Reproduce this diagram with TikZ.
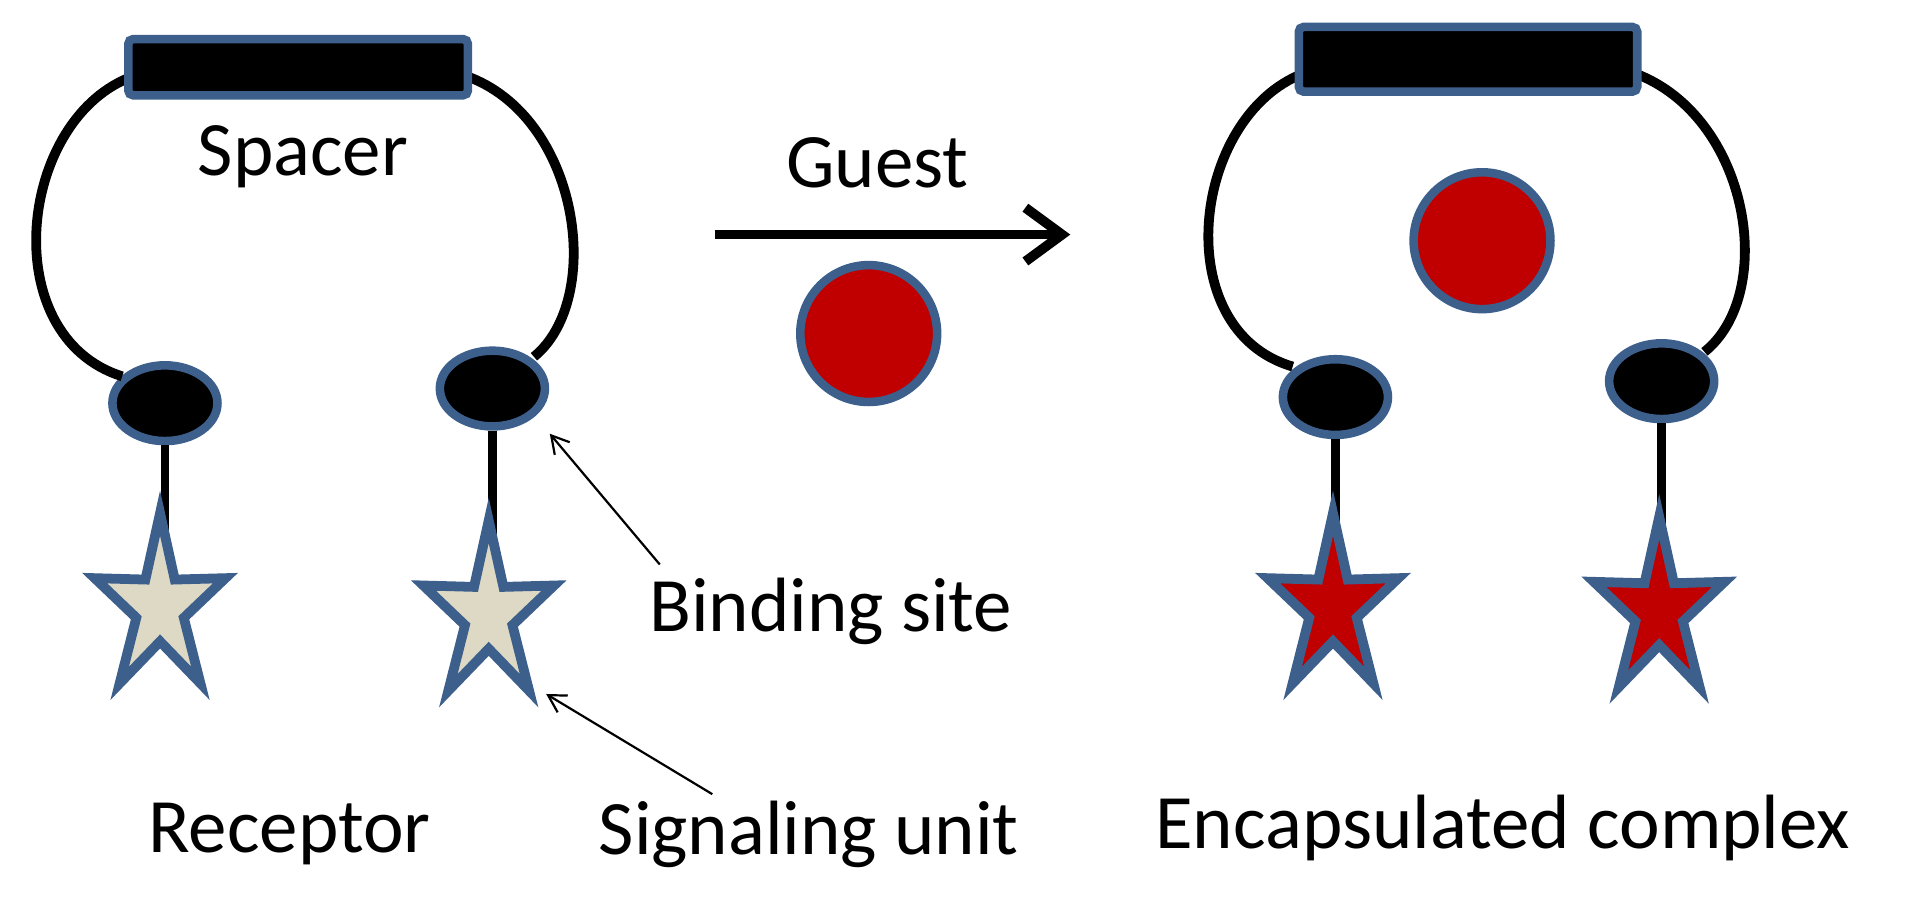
\documentclass[tikz,border=0pt]{standalone}
\usepackage{fontspec}
\setmainfont{Carlito}
\usetikzlibrary{shapes.geometric,arrows.meta}
\definecolor{bdr}{RGB}{60,95,140}
\definecolor{gred}{RGB}{192,0,0}
\definecolor{beige}{RGB}{221,217,196}
\tikzset{
 loop/.style={line width=8pt,black},
 site/.style={ellipse,draw=bdr,fill=black,line width=7pt,minimum width=86pt,minimum height=62pt,inner sep=0pt},
 bar/.style={draw=bdr,fill=black,line width=7pt,rounded corners=4pt},
 guest/.style={circle,draw=bdr,fill=gred,line width=7pt,minimum size=112pt,inner sep=0pt},
 stem/.style={line width=7pt,black},
 lbl/.style={font=\fontsize{63}{66}\selectfont,inner sep=0pt},
 pointer/.style={line width=1.8pt,-{Straight Barb[length=14pt,width=16pt,line width=1.8pt]}},
}
\newcommand{\mystar}[3]{%
 \begin{scope}[shift={(#1,#2)},xscale=0.73]
 \draw[draw=bdr,fill=#3,line width=8pt,line join=miter]
  (270:77) -- (306:28) -- (342:77) -- (18:28) -- (54:77) -- (90:28) -- (126:77) -- (162:28) -- (198:77) -- (234:28) -- cycle;
 \end{scope}}
\begin{document}
\begin{tikzpicture}[x=1pt,y=-1pt]
\useasboundingbox (0,0) rectangle (1560,734);
% left receptor
\node[site] (l1) at (135,330) {};
\node[site] (l2) at (403,318) {};
\draw[loop] (110,62) .. controls (15,95) and (-5,275) .. (100,308);
\draw[loop] (381,62) .. controls (475,95) and (495,245) .. (437,292);
\draw[bar] (105,32) rectangle (383,78);
\draw[stem] (l1.south) -- (135,440);
\draw[stem] (l2.south) -- (403,440);
\mystar{131}{497}{beige}
\mystar{400}{503}{beige}
\node[lbl] (spacer) at (248,128) {Spacer};
\node[lbl] (rec) at (237,683) {Receptor};
% arrow
\node[lbl] (g) at (718,133) {Guest};
\coordinate (a1) at (585,192);
\coordinate (a2) at (876,192);
\draw[line width=8pt,-{Straight Barb[length=30pt,width=44pt,line width=8pt]}] (a1) -- (a2);
\node[guest] (c1) at (711,273) {};
% labels
\node[lbl] (bs) at (680,500) {Binding site};
\node[lbl] (su) at (662,683) {Signaling unit};
\coordinate (bsp) at (450,355);
\coordinate (sup) at (447,568);
\draw[pointer] (540,462) -- (bsp);
\draw[pointer] (583,650) -- (sup);
% right complex
\node[site] (r1) at (1093,325) {};
\node[site] (r2) at (1360,312) {};
\draw[loop] (1067,60) .. controls (975,95) and (955,270) .. (1058,300);
\draw[loop] (1338,60) .. controls (1432,95) and (1455,240) .. (1395,288);
\draw[bar] (1063,22) rectangle (1340,75);
\node[guest] (c2) at (1213,197) {};
\draw[stem] (r1.south) -- (1093,440);
\draw[stem] (r2.south) -- (1360,440);
\mystar{1091}{497}{gred}
\mystar{1358}{500}{gred}
\node[lbl] (enc) at (1230,678) {Encapsulated complex};
\end{tikzpicture}
\end{document}
